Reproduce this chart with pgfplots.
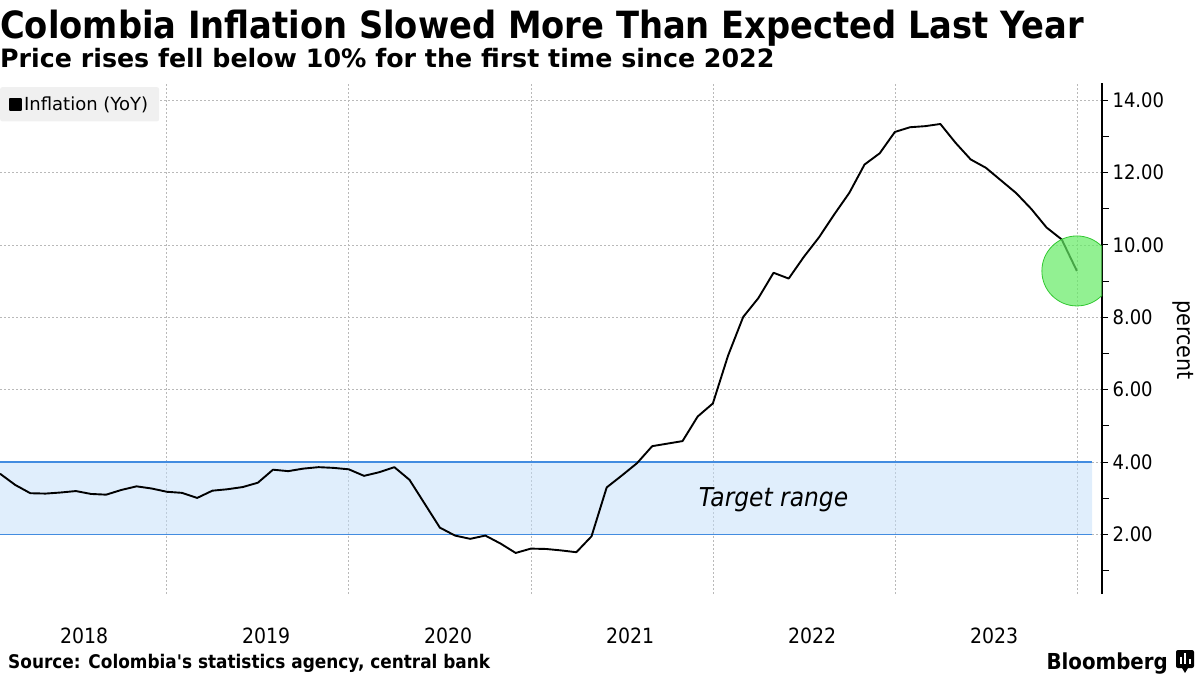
\documentclass[border=0pt]{standalone}
\usepackage{fontspec}
\setmainfont{DejaVu Sans Condensed}
\newfontfamily\widefont{DejaVu Sans}
\newfontfamily\srcfont{DejaVu Sans Condensed}[Ligatures=TeXOff]
\usepackage{pgfplots}
\pgfplotsset{compat=1.18}
\definecolor{bandfill}{RGB}{193,221,249}
\definecolor{tgtblue}{RGB}{66,140,224}
\definecolor{gridc}{RGB}{185,185,185}
\definecolor{legbg}{RGB}{240,240,240}
\definecolor{circfill}{RGB}{100,235,100}
\definecolor{circline}{RGB}{50,200,50}
\pgfplotstableread{
m v
1 3.68
2 3.37
3 3.14
4 3.13
5 3.16
6 3.20
7 3.12
8 3.10
9 3.23
10 3.33
11 3.27
12 3.18
13 3.15
14 3.01
15 3.21
16 3.25
17 3.31
18 3.43
19 3.79
20 3.75
21 3.82
22 3.86
23 3.84
24 3.80
25 3.62
26 3.72
27 3.86
28 3.51
29 2.85
30 2.19
31 1.97
32 1.88
33 1.97
34 1.75
35 1.49
36 1.61
37 1.60
38 1.56
39 1.51
40 1.95
41 3.30
42 3.63
43 3.97
44 4.44
45 4.51
46 4.58
47 5.26
48 5.62
49 6.94
50 8.01
51 8.53
52 9.23
53 9.07
54 9.67
55 10.21
56 10.84
57 11.44
58 12.22
59 12.53
60 13.12
61 13.25
62 13.28
63 13.34
64 12.82
65 12.36
66 12.13
67 11.78
68 11.43
69 10.99
70 10.48
71 10.15
72 9.28
}\infl
\begin{document}
\begin{tikzpicture}
\path[use as bounding box] (0,0) rectangle (1200pt,-675pt);
\begin{axis}[
  at={(0pt,-83pt)}, anchor=north west,
  scale only axis, width=1102pt, height=511pt,
  xmin=1, xmax=73.66, ymin=0.356, ymax=14.472,
  axis y line*=right, axis x line*=bottom,
  x axis line style={draw=none},
  y axis line style={line width=1.3pt, -},
  xtick={6.55,18.55,30.55,42.55,54.55,66.55},
  xticklabels={2018,2019,2020,2021,2022,2023},
  x tick style={draw=none},
  xticklabel style={yshift=-24pt, font=\fontsize{21}{25}\selectfont},
  extra x ticks={12,24,36,48,60,72},
  extra x tick labels={},
  extra x tick style={grid=major, tick style={draw=none}},
  ytick={2,4,6,8,10,12,14},
  minor ytick={1,3,5,7,9,11,13},
  ymajorgrids=true,
  major grid style={gridc, line width=0.7pt, dash pattern=on 2pt off 2pt},
  tick align=outside,
  y tick style={black, line width=1pt},
  major tick length=6pt, minor tick length=7pt,
  yticklabel style={font=\fontsize{20}{24}\selectfont, xshift=1pt},
  /pgf/number format/.cd, fixed, fixed zerofill, precision=2, assume math mode=true,
  /pgfplots/.cd,
  clip marker paths=true,
  legend style={at={(0,1)}, anchor=north west, yshift=-4pt, fill=legbg, draw=none,
    rounded corners=2pt, font=\widefont\fontsize{18}{21}\selectfont, inner xsep=9pt, inner ysep=7.5pt},
  legend cell align=left,
  legend image code/.code={\fill[black, sharp corners] (1pt,-5.5pt) rectangle (12pt,5.5pt);},
]
\addplot[draw=none, fill=bandfill, fill opacity=0.5, forget plot]
  coordinates {(1,2) (73,2) (73,4) (1,4) (1,2)};
\addplot[draw=tgtblue, line width=1.4pt, forget plot] coordinates {(1,4) (73,4)};
\addplot[draw=tgtblue, line width=1.4pt, forget plot] coordinates {(1,2) (73,2)};
\addplot[black, line width=1.9pt, line join=round] table[x=m, y=v] {\infl};
\addlegendentry{Inflation (YoY)}
\addplot[only marks, mark=*, mark size=35pt, forget plot,
  mark options={fill=circfill, fill opacity=0.7, draw=circline, line width=0.8pt}]
  coordinates {(72,9.28)};
\node[font=\itshape\fontsize{26}{30}\selectfont] at (axis cs:52,2.95) {Target range};
\end{axis}
\node[anchor=base west, inner sep=0, font=\bfseries\fontsize{37.5}{44}\selectfont] at (0pt,-38pt)
  {Colombia Inflation Slowed More Than Expected Last Year};
\node[anchor=base west, inner sep=0, font=\widefont\bfseries\fontsize{25.3}{30}\selectfont] at (0pt,-67pt)
  {Price rises fell below 10\% for the first time since 2022};
\node[rotate=-90, font=\fontsize{23}{27}\selectfont] at (1183pt,-340pt) {percent};
\node[anchor=base west, inner sep=0, font=\srcfont\bfseries\fontsize{18.8}{22}\selectfont] at (8pt,-668pt)
  {Source: Colombia's statistics agency, central bank};
\node[anchor=base east, inner sep=0, font=\bfseries\fontsize{22}{26}\selectfont] at (1168pt,-669pt)
  {Bloomberg};
\fill[black, rounded corners=2pt] (1176pt,-650pt) rectangle (1194pt,-668pt);
\fill[black] (1182pt,-668pt) -- (1185pt,-673pt) -- (1188pt,-668pt) -- cycle;
\fill[white] (1179.5pt,-664pt) rectangle (1181.5pt,-657pt);
\fill[white] (1184pt,-664pt) rectangle (1186pt,-653pt);
\fill[white] (1188.5pt,-664pt) rectangle (1190.5pt,-659pt);
\end{tikzpicture}
\end{document}
